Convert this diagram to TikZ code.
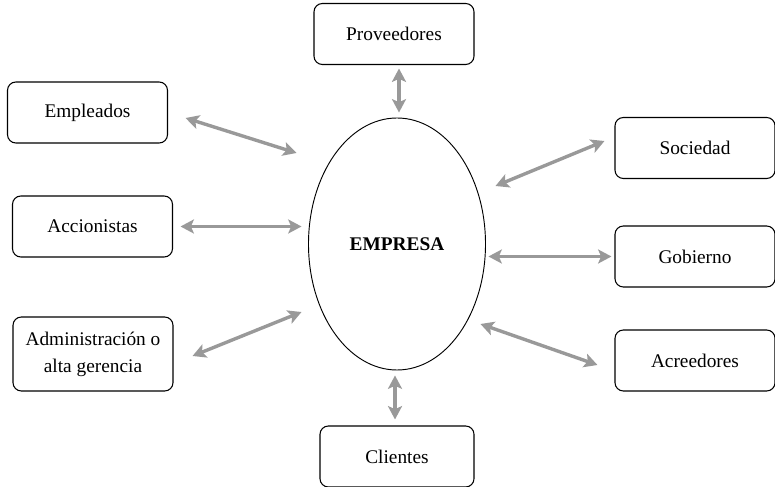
\documentclass[tikz,border=0pt]{standalone}
\usepackage{fontspec}
\setmainfont{Liberation Serif}
\usetikzlibrary{shapes.geometric,arrows.meta}

\begin{document}
\begin{tikzpicture}[x=0.03cm, y=-0.03cm,
    actor/.style={draw, line width=0.9pt, rounded corners=2.5mm, minimum width=4.8cm, minimum height=1.83cm, align=center, font=\fontsize{16.5}{23}\selectfont},
    link/.style={{Stealth[length=4mm,width=4.2mm,inset=0.9mm]}-{Stealth[length=4mm,width=4.2mm,inset=0.9mm]}, line width=2.9pt, draw=black!40, fill=black!40}]
    \useasboundingbox (0,0) rectangle (775,487);
    \node[draw, ellipse, line width=0.8pt, minimum width=5.31cm, minimum height=7.56cm, inner sep=0pt, font=\fontsize{16.5}{20}\selectfont\bfseries] (firm) at (397,244) {EMPRESA};
    \node[actor] (prov) at (394,34) {Proveedores};
    \node[actor] (emp) at (87.5,112.5) {Empleados};
    \node[actor] (acc) at (92.5,226.5) {Accionistas};
    \node[actor, minimum height=2.22cm] (adm) at (93,354) {Administración o\\alta gerencia};
    \node[actor, minimum width=4.62cm] (cli) at (397,456.5) {Clientes};
    \node[actor] (soc) at (695,148) {Sociedad};
    \node[actor] (gob) at (695,256.5) {Gobierno};
    \node[actor] (acr) at (695,360.5) {Acreedores};
    % left side
    \draw[link] ([shift={(17.5,5.5)}]emp.east) -- ([shift={(-11.5,-91)}]firm.west);
    \draw[link] ([shift={(7.5,0)}]acc.east) -- ([shift={(-6.5,-17.5)}]firm.west);
    \draw[link] ([shift={(19,2)}]adm.east) -- ([shift={(-6.5,68)}]firm.west);
    % top and bottom
    \draw[link] ([shift={(5,3.5)}]prov.south) -- ([shift={(2,-5)}]firm.north);
    \draw[link] ([shift={(-2,5)}]firm.south) -- ([shift={(-2,-6)}]cli.north);
    % right side
    \draw[link] ([shift={(9.5,-58)}]firm.east) -- ([shift={(-10,-7)}]soc.west);
    \draw[link] ([shift={(2.5,12.5)}]firm.east) -- ([shift={(-3,0)}]gob.west);
    \draw[link] ([shift={(-5.5,80)}]firm.east) -- ([shift={(-17,4.5)}]acr.west);
\end{tikzpicture}
\end{document}
